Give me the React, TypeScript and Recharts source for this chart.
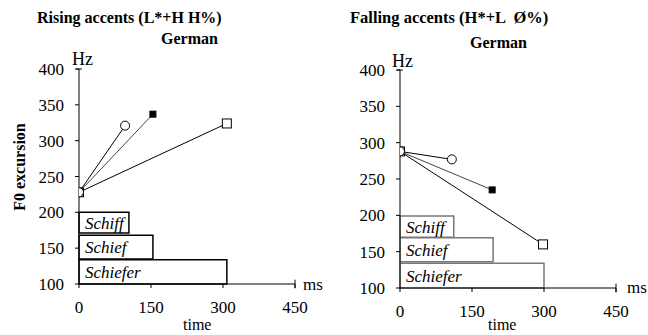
import React from 'react';
import { ComposedChart, Scatter, XAxis, YAxis, ReferenceArea, ReferenceLine } from 'recharts';

// time (ms) / F0 (Hz) points
const risingCircle = [{ t: 0, hz: 228 }, { t: 96, hz: 321 }];
const risingFilled = [{ t: 0, hz: 228 }, { t: 154, hz: 337 }];
const risingOpen = [{ t: 0, hz: 228 }, { t: 308, hz: 324 }];

const fallingCircle = [{ t: 0, hz: 288 }, { t: 108, hz: 277 }];
const fallingFilled = [{ t: 0, hz: 288 }, { t: 192, hz: 235 }];
const fallingOpen = [{ t: 0, hz: 288 }, { t: 298, hz: 160 }];

// word boxes: [label, end ms, low Hz, high Hz]
const risingWords: [string, number, number, number][] = [
  ['Schiff', 104, 171, 200],
  ['Schief', 154, 135, 168],
  ['Schiefer', 308, 100, 134],
];
const fallingWords: [string, number, number, number][] = [
  ['Schiff', 112, 170, 199],
  ['Schief', 194, 136, 169],
  ['Schiefer', 300, 100, 134],
];

const xTicks = [0, 150, 300, 450];
const yTicks = [100, 150, 200, 250, 300, 350, 400];

const FONT = "'Liberation Serif', serif";

const circleShape = (p: any) => (
  <circle cx={p.cx} cy={p.cy} r={4.5} fill="#fff" stroke="#000" strokeWidth={1} />
);
const filledShape = (p: any) => (
  <rect x={p.cx - 3} y={p.cy - 3} width={6} height={6} fill="#000" stroke="#000" />
);
const openShape = (p: any) => (
  <rect x={p.cx - 4.5} y={p.cy - 4.5} width={9} height={9} fill="#fff" stroke="#000" strokeWidth={1} />
);

const tickStyle = { fontFamily: FONT, fontSize: 17, fill: '#000' };

interface PanelProps {
  circle: { t: number; hz: number }[];
  filled: { t: number; hz: number }[];
  open: { t: number; hz: number }[];
  words: [string, number, number, number][];
  axisW: number;
  top: number;
  bottom: number;
  boxStroke: string;
}

const Panel: React.FC<PanelProps> = ({ circle, filled, open, words, axisW, top, bottom, boxStroke }) => (
  <ComposedChart
    width={324}
    height={335}
    margin={{ top, right: 324 - axisW - 216, bottom: bottom - 30, left: 0 }}
    style={{ fontFamily: FONT }}
  >
    <XAxis
      type="number"
      dataKey="t"
      domain={[0, 450]}
      ticks={xTicks}
      tickSize={4}
      tickMargin={13}
      height={30}
      stroke="#000"
      tick={tickStyle}
      allowDataOverflow
    />
    <YAxis
      type="number"
      dataKey="hz"
      domain={[100, 400]}
      ticks={yTicks}
      tickSize={4}
      tickMargin={11}
      width={axisW}
      stroke="#000"
      tick={tickStyle}
      allowDataOverflow
    />
    {words.map(([w, end, lo, hi]) => (
      <ReferenceArea
        key={w}
        x1={0}
        x2={end}
        y1={lo}
        y2={hi}
        fill="#fff"
        fillOpacity={1}
        stroke={boxStroke}
        strokeWidth={1.5}
        label={{ value: w, position: 'insideLeft', offset: 6, fontFamily: FONT, fontSize: 17, fontStyle: 'italic', fill: '#000' }}
      />
    ))}
    <ReferenceLine segment={[{ x: -6, y: 400 }, { x: 6, y: 400 }]} stroke="#000" ifOverflow="visible" />
    <ReferenceLine segment={[{ x: 450, y: 94 }, { x: 450, y: 106 }]} stroke="#000" ifOverflow="visible" />
    <Scatter data={open} shape={openShape} line={{ stroke: '#000', strokeWidth: 1 }} isAnimationActive={false} />
    <Scatter data={filled} shape={filledShape} line={{ stroke: '#444', strokeWidth: 1 }} isAnimationActive={false} />
    <Scatter data={circle} shape={circleShape} line={{ stroke: '#000', strokeWidth: 1 }} isAnimationActive={false} />
  </ComposedChart>
);

const abs = (x: number, y: number, extra: React.CSSProperties = {}): React.CSSProperties => ({
  position: 'absolute',
  left: x,
  top: y,
  fontFamily: FONT,
  whiteSpace: 'pre',
  lineHeight: 1,
  color: '#000',
  ...extra,
});

export default function App() {
  return (
    <div style={{ position: 'absolute', left: 0, top: 0, width: 648, height: 335, background: '#fff', overflow: 'hidden', fontFamily: FONT }}>
      <style>{`.recharts-wrapper text { font-family: 'Liberation Serif', serif !important; }`}</style>
      <div style={{ position: 'absolute', left: 0, top: 0 }}>
        <Panel circle={risingCircle} filled={risingFilled} open={risingOpen} words={risingWords} axisW={79} top={69} bottom={51} boxStroke="#000" />
      </div>
      <div style={{ position: 'absolute', left: 324, top: 0 }}>
        <Panel circle={fallingCircle} filled={fallingFilled} open={fallingOpen} words={fallingWords} axisW={76} top={70} bottom={47} boxStroke="#777" />
      </div>

      <div style={abs(37, 10, { fontSize: 16, fontWeight: 'bold' })}>Rising accents (L*+H H%)</div>
      <div style={abs(161, 31, { fontSize: 16, fontWeight: 'bold' })}>German</div>
      <div style={abs(350, 10, { fontSize: 16.5, fontWeight: 'bold' })}>Falling accents (H*+L  Ø%)</div>
      <div style={abs(470, 35, { fontSize: 16, fontWeight: 'bold' })}>German</div>

      <div style={abs(72, 50, { fontSize: 18 })}>Hz</div>
      <div style={abs(392, 52, { fontSize: 18 })}>Hz</div>
      <div style={abs(303, 276, { fontSize: 17 })}>ms</div>
      <div style={abs(627, 279, { fontSize: 17 })}>ms</div>
      <div style={abs(183, 317, { fontSize: 16 })}>time</div>
      <div style={abs(488, 317, { fontSize: 16 })}>time</div>
      <div style={abs(20, 167, { fontSize: 16, fontWeight: 'bold', transform: 'translate(-50%, -50%) rotate(-90deg)' })}>F0 excursion</div>
    </div>
  );
}
